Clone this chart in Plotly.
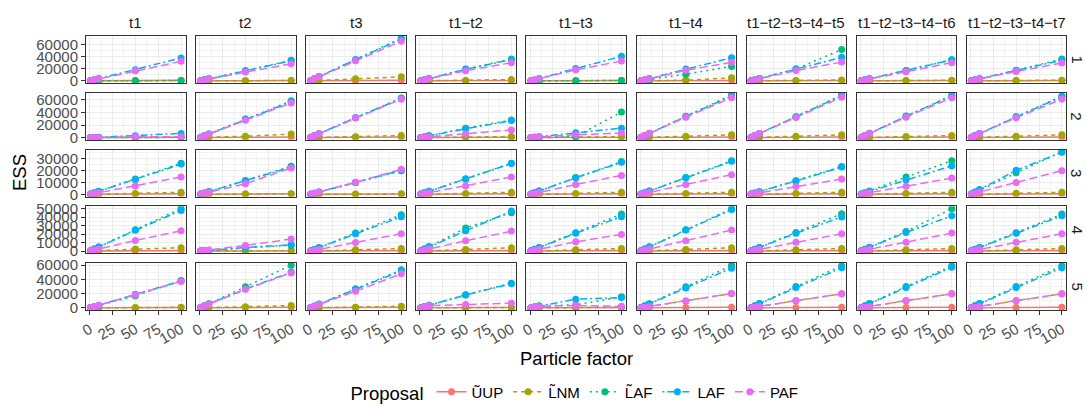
import plotly.graph_objects as go

W, H = 1087, 406

particle_factor = [1, 5, 10, 50, 100]
columns = ["t1", "t2", "t3", "t1−t2", "t1−t3", "t1−t4",
           "t1−t2−t3−t4−t5", "t1−t2−t3−t4−t6", "t1−t2−t3−t4−t7"]
rows = ["1", "2", "3", "4", "5"]
proposals = ["ŨUP", "L̃NM", "L̃AF", "LAF", "PAF"]
y_ticks = [[0, 20000, 40000, 60000], [0, 20000, 40000, 60000],
           [0, 10000, 20000, 30000], [0, 10000, 20000, 30000, 40000, 50000],
           [0, 20000, 40000, 60000]]
x_ticks = [0, 25, 50, 75, 100]

# ESS values: [row][column] -> values at particle_factor
up_ess = [
    [[8, 40, 80, 420, 850], [6, 30, 60, 300, 600], [9, 45, 90, 450, 900], [7, 35, 70, 350, 700], [6, 30, 60, 300, 600],
     [8, 40, 80, 400, 800], [7, 35, 70, 350, 700], [7, 35, 70, 350, 700], [7, 35, 70, 350, 700]],
    [[5, 25, 50, 250, 500], [8, 40, 80, 400, 800], [8, 40, 80, 400, 800], [6, 30, 60, 300, 600], [5, 25, 50, 250, 500],
     [8, 40, 80, 400, 800], [8, 40, 80, 400, 800], [8, 40, 80, 400, 800], [8, 40, 80, 400, 800]],
    [[5, 25, 50, 250, 500], [5, 25, 50, 250, 500], [4, 20, 40, 200, 400], [5, 25, 50, 250, 500], [5, 25, 50, 250, 500],
     [5, 25, 50, 250, 500], [5, 25, 50, 250, 500], [5, 25, 50, 250, 500], [5, 25, 50, 250, 500]],
    [[6, 30, 60, 300, 600], [4, 20, 40, 200, 400], [6, 30, 60, 300, 600], [6, 30, 60, 300, 600], [6, 30, 60, 300, 600],
     [6, 30, 60, 300, 600], [6, 30, 60, 300, 600], [6, 30, 60, 300, 600], [6, 30, 60, 300, 600]],
    [[6, 30, 60, 300, 600], [7, 35, 70, 350, 700], [7, 35, 70, 350, 700], [5, 25, 50, 250, 500], [5, 25, 50, 250, 500],
     [7, 35, 70, 350, 700], [7, 35, 70, 350, 700], [7, 35, 70, 350, 700], [7, 35, 70, 350, 700]],
]

nm_ess = [
    [[3, 15, 30, 150, 300], [6, 30, 60, 300, 600], [70, 330, 670, 3300, 6700], [20, 80, 160, 800, 2200],
     [5, 25, 50, 300, 500], [40, 150, 250, 1000, 5000], [15, 60, 120, 600, 1500], [10, 50, 100, 500, 1000],
     [12, 50, 100, 500, 1200]],
    [[4, 20, 40, 200, 400], [55, 220, 450, 2200, 5600], [33, 150, 300, 1500, 3300], [17, 80, 160, 800, 1700],
     [15, 70, 140, 700, 1500], [44, 220, 440, 2200, 4400], [44, 200, 400, 2000, 4400], [33, 180, 360, 1800, 3300],
     [44, 200, 400, 2000, 4400]],
    [[17, 70, 140, 700, 1700], [6, 40, 80, 400, 600], [5, 30, 60, 300, 500], [17, 80, 160, 800, 1700],
     [17, 80, 160, 800, 1700], [17, 80, 160, 800, 1700], [17, 80, 160, 800, 1700], [17, 80, 160, 800, 1700],
     [17, 90, 180, 900, 1700]],
    [[39, 240, 480, 2400, 3900], [5, 30, 60, 300, 500], [31, 150, 300, 1500, 3100], [39, 200, 400, 2000, 3900],
     [31, 150, 300, 1500, 3100], [39, 180, 360, 1800, 3900], [31, 160, 320, 1600, 3100], [31, 160, 320, 1600, 3100],
     [31, 160, 320, 1600, 3100]],
    [[8, 40, 80, 400, 800], [33, 150, 300, 1500, 3300], [23, 100, 200, 1000, 2300], [6, 30, 60, 300, 600],
     [7, 40, 80, 400, 700], [200, 980, 1960, 9800, 20000], [197, 1000, 2000, 10000, 19700],
     [197, 1000, 2000, 10000, 19700], [197, 1000, 2000, 10000, 19700]],
]

laf_tilde_ess = [
    [[5, 25, 50, 250, 500], [340, 1700, 3400, 16700, 33900], [700, 3500, 7000, 35000, 70500],
     [360, 1900, 3800, 19400, 36100], [6, 30, 60, 300, 600], [240, 1100, 2300, 11100, 23900],
     [500, 2000, 4000, 19500, 51700], [350, 1750, 3500, 17200, 35000], [360, 1750, 3500, 17200, 36100]],
    [[5, 25, 50, 250, 500], [580, 2900, 5900, 29400, 58300], [630, 3200, 6300, 31700, 62800],
     [280, 1500, 3000, 15000, 27800], [20, 100, 200, 2000, 40600], [680, 3400, 6800, 33900, 67800],
     [680, 3300, 6700, 33300, 67800], [670, 3400, 6900, 34400, 67200], [660, 3300, 6600, 33300, 66100]],
    [[260, 1300, 2600, 12900, 26300], [240, 1200, 2350, 11700, 23700], [200, 1000, 2000, 10000, 19800],
     [260, 1300, 2600, 13100, 26300], [280, 1400, 2850, 14300, 27700], [280, 1400, 2850, 14300, 28300],
     [230, 1150, 2300, 11400, 23400], [280, 1450, 2900, 14600, 28300], [360, 1800, 3600, 18300, 36000]],
    [[500, 2500, 5000, 25200, 50400], [70, 380, 760, 3800, 7000], [430, 2130, 4260, 21300, 42900],
     [450, 2700, 5400, 27200, 45300], [440, 2170, 4340, 21700, 43700], [500, 2520, 5040, 25200, 50000],
     [440, 2200, 4400, 22000, 44100], [500, 2320, 4640, 23200, 50000], [440, 2170, 4340, 21700, 43700]],
    [[380, 1700, 3400, 16900, 38400], [600, 2950, 5900, 29500, 60000], [530, 2670, 5340, 26700, 53400],
     [350, 1830, 3660, 18300, 34700], [200, 1500, 3000, 4200, 15500], [600, 2950, 5900, 29500, 59500],
     [590, 3000, 6000, 30000, 59000], [590, 3000, 6000, 30000, 59000], [590, 3000, 6000, 30000, 59000]],
]

laf_ess = [
    [[380, 1900, 3800, 18300, 37800], [330, 1650, 3300, 16500, 33000], [690, 3500, 7000, 35000, 69000],
     [350, 1900, 3700, 19000, 35000], [400, 2000, 4100, 20500, 40500], [380, 1950, 3900, 19400, 38300],
     [390, 1950, 3900, 19500, 38900], [345, 1700, 3400, 17000, 34500], [340, 1750, 3500, 17500, 33900]],
    [[70, 300, 600, 2800, 6700], [570, 2900, 5800, 29000, 57000], [620, 3150, 6300, 31500, 62000],
     [270, 1400, 2800, 14000, 27000], [150, 780, 1600, 7800, 15000], [660, 3350, 6700, 33500, 66000],
     [665, 3300, 6600, 33000, 66500], [660, 3400, 6800, 34000, 66000], [650, 3300, 6600, 33000, 65000]],
    [[255, 1250, 2500, 12500, 25500], [230, 1150, 2300, 11500, 23000], [200, 1000, 2000, 10000, 20300],
     [260, 1280, 2560, 12800, 26000], [270, 1400, 2800, 14000, 27000], [280, 1400, 2800, 14000, 27800],
     [230, 1120, 2240, 11200, 23000], [240, 1230, 2460, 12300, 24000], [355, 2000, 4000, 20300, 35500]],
    [[480, 2450, 4900, 24500, 48000], [75, 430, 860, 4300, 7500], [410, 2050, 4100, 20500, 40600],
     [470, 2400, 4800, 24000, 47200], [410, 2100, 4200, 21000, 40600], [490, 2480, 4960, 24800, 49000],
     [400, 2100, 4200, 21000, 40200], [420, 2200, 4400, 22000, 41700], [420, 2100, 4200, 21000, 41700]],
    [[380, 1900, 3800, 19200, 37800], [500, 2650, 5300, 26500, 50200], [520, 2600, 5200, 26000, 52000],
     [340, 1800, 3600, 18000, 34000], [145, 1200, 2400, 12200, 14500], [560, 2800, 5600, 28000, 55800],
     [560, 2850, 5700, 28500, 56200], [570, 2850, 5700, 28500, 57000], [560, 2850, 5700, 28500, 56200]],
]

paf_ess = [
    [[320, 1650, 3300, 16700, 32200], [280, 1450, 2900, 14800, 28300], [650, 3300, 6600, 33000, 65500],
     [300, 1650, 3300, 16700, 30000], [330, 1800, 3600, 18300, 32800], [300, 1700, 3400, 17500, 30600],
     [320, 1700, 3400, 17000, 31000], [300, 1500, 3000, 15000, 30000], [290, 1550, 3100, 15500, 29400]],
    [[15, 120, 240, 1200, 1500], [550, 2750, 5500, 27500, 55000], [610, 3100, 6200, 31000, 61000],
     [120, 560, 1100, 5600, 12200], [70, 450, 900, 4500, 7200], [630, 3250, 6500, 32500, 63300],
     [640, 3200, 6400, 32000, 64000], [630, 3250, 6500, 32500, 63300], [610, 3150, 6300, 31500, 61100]],
    [[146, 710, 1420, 7100, 14600], [220, 900, 1800, 8900, 22300], [210, 1020, 2040, 10200, 21100],
     [146, 710, 1420, 7100, 14600], [160, 830, 1660, 8300, 16000], [166, 830, 1660, 8300, 16600],
     [130, 660, 1320, 6600, 12900], [137, 690, 1380, 6900, 13700], [200, 1000, 2000, 10000, 20000]],
    [[240, 1260, 2520, 12600, 24000], [140, 670, 1340, 6700, 14200], [205, 1020, 2040, 10200, 20500],
     [236, 1220, 2440, 12200, 23600], [197, 1100, 2200, 11000, 19700], [248, 1220, 2440, 12200, 24800],
     [205, 1060, 2120, 10600, 20500], [213, 1060, 2120, 10600, 21300], [205, 1060, 2120, 10600, 20500]],
    [[370, 1850, 3700, 18500, 37000], [490, 2600, 5200, 26000, 49000], [480, 2340, 4680, 23400, 47800],
     [66, 1500, 3000, 4700, 6600], [23, 1000, 2000, 3300, 2300], [200, 980, 1960, 9800, 20200],
     [197, 1030, 2060, 10300, 19700], [197, 1030, 2060, 10300, 19700], [197, 1030, 2060, 10300, 19700]],
]

colors = ["#F8766D", "#A3A500", "#00BF7D", "#00B0F6", "#E76BF3"]
dashes = ["solid", "4px,4px", "2px,4px", "2px,3px,7px,3px", "8px,4px"]
series_data = [up_ess, nm_ess, laf_tilde_ess, laf_ess, paf_ess]

FONT = "Liberation Sans, Arial, Helvetica, sans-serif"
fig = go.Figure()

nrow, ncol = len(rows), len(columns)
for si, name in enumerate(proposals):
    data = series_data[si]
    for r in range(nrow):
        for c in range(ncol):
            k = r * ncol + c + 1
            fig.add_trace(go.Scatter(
                x=particle_factor, y=data[r][c], mode="lines+markers",
                xaxis="x" if k == 1 else f"x{k}", yaxis="y" if k == 1 else f"y{k}",
                line=dict(color=colors[si], width=1.5, dash=dashes[si]),
                marker=dict(color=colors[si], size=7),
                name=name, legendgroup=name, showlegend=(k == 1),
            ))

layout = {}
col_left0, col_pitch, pw = 86.0, 110.1, 99.6
row_top0, row_pitch, ph = 36.0, 56.75, 47.0
grid_major = "#EBEBEB"
grid_minor = "#F3F3F3"
annotations = []
for r in range(nrow):
    vals = []
    for s in series_data:
        for c in range(ncol):
            vals.extend(s[r][c])
    lo, hi = min(vals), max(vals)
    span = hi - lo
    yr = [lo - 0.05 * span, hi + 0.05 * span]
    yt = y_ticks[r]
    ystep = yt[1] - yt[0]
    yminor = [v + ystep / 2 for v in yt] + [yt[0] - ystep / 2]
    for c in range(ncol):
        k = r * ncol + c + 1
        xn = "xaxis" if k == 1 else f"xaxis{k}"
        yn = "yaxis" if k == 1 else f"yaxis{k}"
        xref = "x" if k == 1 else f"x{k}"
        yref = "y" if k == 1 else f"y{k}"
        x0 = (col_left0 + col_pitch * c) / W
        x1 = (col_left0 + col_pitch * c + pw) / W
        y1 = 1 - (row_top0 + row_pitch * r) / H
        y0 = 1 - (row_top0 + row_pitch * r + ph) / H
        layout[xn] = dict(
            domain=[x0, x1], anchor=yref, range=[-3.95, 104.95], automargin=False,
            tickmode="array", tickvals=x_ticks, ticktext=[str(v) for v in x_ticks],
            showgrid=True, gridcolor=grid_major, gridwidth=1,
            minor=dict(tickvals=[12.5, 37.5, 62.5, 87.5], showgrid=True,
                       gridcolor=grid_minor, gridwidth=0.6, ticks=""),
            showline=True, mirror=True, linecolor="#333333", linewidth=1,
            zeroline=False, ticks="outside" if r == nrow - 1 else "",
            ticklen=4, tickcolor="#333333", tickwidth=1,
            showticklabels=(r == nrow - 1), tickangle=-30,
            tickfont=dict(family=FONT, size=15, color="#4D4D4D"),
        )
        layout[yn] = dict(
            domain=[y0, y1], anchor=xref, range=yr, automargin=False,
            tickmode="array", tickvals=yt, ticktext=[str(v) for v in yt],
            showgrid=True, gridcolor=grid_major, gridwidth=1,
            minor=dict(tickvals=yminor, showgrid=True, gridcolor=grid_minor,
                       gridwidth=0.6, ticks=""),
            showline=True, mirror=True, linecolor="#333333", linewidth=1,
            zeroline=False, ticks="outside" if c == 0 else "",
            ticklen=4, tickcolor="#333333", tickwidth=1,
            showticklabels=(c == 0),
            tickfont=dict(family=FONT, size=15, color="#4D4D4D"),
        )
        if r == 0:
            annotations.append(dict(
                text=columns[c], x=(x0 + x1) / 2, y=1 - 22 / H, xref="paper", yref="paper",
                showarrow=False, xanchor="center", yanchor="middle",
                font=dict(family=FONT, size=15, color="#1A1A1A")))
    annotations.append(dict(
        text=rows[r], x=1077 / W, y=1 - (row_top0 + row_pitch * r + ph / 2) / H,
        xref="paper", yref="paper", showarrow=False, textangle=90,
        xanchor="center", yanchor="middle",
        font=dict(family=FONT, size=15, color="#1A1A1A")))

annotations.append(dict(text="ESS", x=19 / W, y=1 - 173 / H, xref="paper", yref="paper",
                        showarrow=False, textangle=-90, xanchor="center", yanchor="middle",
                        font=dict(family=FONT, size=18.5, color="#000000")))
annotations.append(dict(text="Particle factor", x=576 / W, y=1 - 358 / H, xref="paper", yref="paper",
                        showarrow=False, xanchor="center", yanchor="middle",
                        font=dict(family=FONT, size=18.5, color="#000000")))

fig.update_layout(
    template="none",
    width=W, height=H, margin=dict(l=0, r=0, t=0, b=0, autoexpand=False),
    paper_bgcolor="white", plot_bgcolor="white",
    font=dict(family=FONT, color="#000000"),
    annotations=annotations,
    showlegend=True,
    legend=dict(orientation="h", x=576 / W, xanchor="center", y=1 - 393 / H, yanchor="middle",
                title=dict(text="Proposal", side="left", font=dict(family=FONT, size=18.5, color="#000000")),
                font=dict(family=FONT, size=15, color="#000000"),
                itemwidth=30, tracegroupgap=0, bgcolor="rgba(0,0,0,0)", borderwidth=0),
    **layout,
)

fig.write_html("out.html")
